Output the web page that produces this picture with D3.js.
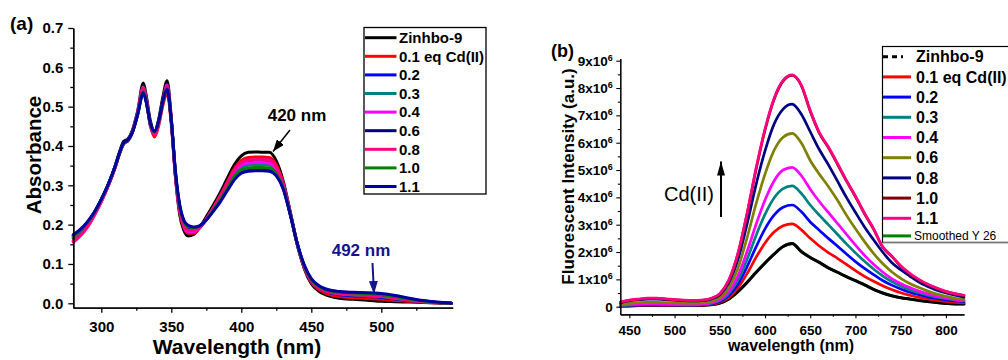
<!DOCTYPE html>
<html>
<head>
<meta charset="utf-8">
<script src="https://cdn.jsdelivr.net/npm/d3@7"></script>
<style>
  body { margin: 0; background: #fff; }
  svg { display: block; }
  text { font-family: "Liberation Sans", Arial, sans-serif; }
  .tick text { font-weight: bold; fill: #000; }
</style>
</head>
<body>
<svg id="chart" width="1008" height="360"></svg>
<script>
// ---------- Panel (a): UV-vis absorbance titration ----------
const wavelengthA = [280,285,290,295,300,305,310,313,316,319,322,326,330,332,335,338,341,344,347,350,353,356,359,362,366,370,375,380,385,390,395,400,405,410,415,420,425,430,435,440,445,450,455,460,470,480,490,500,510,520,530,540,550];

const absZinhbo9 = [0.165,0.180,0.200,0.228,0.262,0.302,0.350,0.385,0.412,0.418,0.438,0.490,0.560,0.530,0.465,0.437,0.468,0.525,0.566,0.470,0.320,0.225,0.185,0.171,0.175,0.192,0.220,0.250,0.282,0.318,0.352,0.375,0.384,0.385,0.384,0.384,0.362,0.310,0.232,0.150,0.088,0.050,0.032,0.022,0.013,0.010,0.008,0.005,0.004,0.003,0.002,0.001,0.000];
const absEq01 = [0.160,0.175,0.196,0.225,0.259,0.299,0.346,0.380,0.405,0.413,0.432,0.482,0.545,0.518,0.452,0.423,0.452,0.503,0.535,0.455,0.320,0.232,0.192,0.178,0.178,0.190,0.214,0.243,0.274,0.308,0.342,0.363,0.371,0.372,0.372,0.371,0.352,0.305,0.230,0.150,0.090,0.054,0.036,0.026,0.017,0.014,0.012,0.010,0.007,0.005,0.003,0.001,0.000];
const absEq02 = [0.170,0.184,0.203,0.230,0.263,0.302,0.349,0.382,0.408,0.415,0.434,0.482,0.540,0.516,0.457,0.433,0.462,0.515,0.548,0.462,0.325,0.240,0.200,0.186,0.184,0.192,0.213,0.240,0.269,0.301,0.333,0.352,0.359,0.360,0.360,0.359,0.342,0.300,0.228,0.150,0.092,0.057,0.040,0.030,0.022,0.019,0.017,0.015,0.011,0.007,0.004,0.002,0.000];
const absEq03 = [0.168,0.183,0.202,0.229,0.262,0.301,0.348,0.381,0.407,0.414,0.433,0.482,0.542,0.517,0.456,0.432,0.460,0.513,0.545,0.462,0.327,0.243,0.203,0.189,0.187,0.194,0.213,0.238,0.266,0.297,0.327,0.345,0.351,0.352,0.352,0.351,0.336,0.296,0.227,0.150,0.093,0.058,0.041,0.032,0.024,0.021,0.019,0.017,0.012,0.008,0.004,0.002,0.000];
const absEq04 = [0.155,0.171,0.193,0.223,0.258,0.299,0.347,0.381,0.406,0.414,0.434,0.486,0.550,0.522,0.455,0.430,0.460,0.515,0.555,0.465,0.323,0.237,0.196,0.182,0.182,0.192,0.214,0.242,0.272,0.304,0.336,0.352,0.357,0.358,0.358,0.357,0.340,0.299,0.228,0.150,0.093,0.058,0.041,0.032,0.025,0.023,0.021,0.019,0.014,0.009,0.005,0.002,0.000];
const absEq06 = [0.172,0.186,0.205,0.231,0.264,0.302,0.349,0.382,0.408,0.415,0.434,0.483,0.545,0.520,0.459,0.436,0.464,0.517,0.550,0.466,0.330,0.246,0.206,0.193,0.190,0.195,0.212,0.236,0.262,0.291,0.320,0.336,0.341,0.342,0.342,0.341,0.328,0.292,0.226,0.151,0.095,0.060,0.043,0.034,0.027,0.025,0.023,0.021,0.016,0.010,0.005,0.002,0.000];
const absEq08 = [0.157,0.173,0.194,0.224,0.259,0.300,0.347,0.381,0.406,0.414,0.434,0.485,0.548,0.520,0.453,0.428,0.458,0.513,0.552,0.463,0.325,0.240,0.199,0.186,0.185,0.193,0.214,0.242,0.273,0.306,0.340,0.358,0.365,0.366,0.366,0.365,0.347,0.302,0.229,0.150,0.092,0.057,0.040,0.031,0.024,0.022,0.020,0.018,0.013,0.008,0.004,0.002,0.000];
const absEq10 = [0.172,0.186,0.205,0.231,0.264,0.302,0.349,0.381,0.407,0.414,0.433,0.480,0.538,0.514,0.457,0.435,0.462,0.514,0.545,0.463,0.331,0.248,0.208,0.195,0.192,0.196,0.213,0.237,0.263,0.292,0.322,0.339,0.344,0.345,0.345,0.344,0.330,0.293,0.226,0.151,0.095,0.061,0.044,0.035,0.028,0.026,0.024,0.022,0.017,0.011,0.006,0.002,0.000];
const absEq11 = [0.175,0.188,0.207,0.232,0.265,0.303,0.350,0.382,0.408,0.415,0.433,0.480,0.535,0.512,0.458,0.437,0.463,0.514,0.545,0.465,0.334,0.251,0.211,0.198,0.194,0.197,0.212,0.234,0.258,0.286,0.314,0.331,0.336,0.337,0.337,0.336,0.324,0.290,0.225,0.152,0.097,0.063,0.046,0.037,0.030,0.028,0.027,0.025,0.020,0.013,0.007,0.003,0.000];

const labelsA = ["Zinhbo-9","0.1 eq Cd(II)","0.2","0.3","0.4","0.6","0.8","1.0","1.1"];
const coloursA = ["#000000","#ff0000","#0000ff","#008080","#ff00ff","#000080","#ff0080","#008000","#0000a0"];
const seriesA = [absZinhbo9,absEq01,absEq02,absEq03,absEq04,absEq06,absEq08,absEq10,absEq11];

const absTicks = [0.0,0.1,0.2,0.3,0.4,0.5,0.6,0.7];
const absMinorTicks = [0.05,0.15,0.25,0.35,0.45,0.55,0.65];
const wlTicksA = [300,350,400,450,500];
const wlMinorTicksA = [325,375,425,475,525];

// ---------- Panel (b): fluorescence titration (intensity in units of 10^6) ----------
const wavelengthB = [440,450,460,470,480,490,500,510,520,530,540,550,560,570,580,590,600,610,620,630,640,650,660,670,680,690,700,710,720,730,740,750,760,770,780,790,800,810,820];

const flZinhbo9 = [0.02,0.03,0.04,0.05,0.05,0.04,0.04,0.04,0.04,0.05,0.07,0.13,0.28,0.55,0.88,1.25,1.60,1.92,2.20,2.31,2.02,1.80,1.62,1.42,1.26,1.10,0.95,0.80,0.63,0.50,0.40,0.33,0.28,0.23,0.19,0.15,0.12,0.10,0.10];
const flEq01 = [0.02,0.04,0.05,0.06,0.06,0.05,0.05,0.05,0.05,0.06,0.08,0.16,0.34,0.68,1.20,1.80,2.33,2.73,2.96,3.03,2.82,2.50,2.22,1.98,1.77,1.55,1.32,1.11,0.93,0.77,0.63,0.51,0.42,0.34,0.28,0.23,0.19,0.16,0.14];
const flEq02 = [0.03,0.05,0.06,0.07,0.07,0.07,0.06,0.06,0.06,0.07,0.10,0.19,0.41,0.82,1.45,2.18,2.85,3.35,3.64,3.72,3.48,3.10,2.80,2.50,2.22,1.93,1.65,1.40,1.17,0.96,0.79,0.65,0.53,0.44,0.36,0.30,0.25,0.21,0.18];
const flEq03 = [0.04,0.06,0.08,0.09,0.09,0.08,0.08,0.07,0.07,0.08,0.12,0.22,0.48,0.97,1.72,2.60,3.38,3.98,4.32,4.42,4.15,3.72,3.35,3.00,2.65,2.30,1.97,1.66,1.38,1.13,0.92,0.76,0.62,0.51,0.42,0.35,0.29,0.24,0.21];
const flEq04 = [0.05,0.08,0.10,0.11,0.11,0.10,0.09,0.09,0.09,0.10,0.14,0.26,0.56,1.12,2.00,3.00,3.90,4.60,5.00,5.10,4.80,4.30,3.85,3.45,3.05,2.65,2.25,1.88,1.55,1.27,1.03,0.85,0.70,0.57,0.47,0.39,0.32,0.27,0.23];
const flEq06 = [0.08,0.12,0.15,0.16,0.16,0.15,0.14,0.13,0.13,0.14,0.19,0.33,0.70,1.40,2.50,3.75,4.85,5.72,6.20,6.34,6.00,5.35,4.85,4.40,3.90,3.35,2.85,2.38,1.95,1.58,1.28,1.04,0.85,0.70,0.57,0.46,0.38,0.31,0.27];
const flEq08 = [0.15,0.22,0.26,0.28,0.28,0.26,0.24,0.22,0.21,0.22,0.27,0.43,0.88,1.72,3.00,4.45,5.70,6.68,7.23,7.41,7.05,6.40,5.75,5.20,4.60,4.00,3.45,2.92,2.45,2.00,1.62,1.35,1.12,0.90,0.74,0.60,0.50,0.42,0.35];
const flEq10 = [0.16,0.23,0.27,0.30,0.30,0.28,0.25,0.23,0.22,0.23,0.29,0.47,0.96,1.92,3.36,5.00,6.46,7.58,8.25,8.46,8.10,7.15,6.35,5.82,5.22,4.60,4.02,3.40,2.84,2.18,1.84,1.48,1.20,0.98,0.81,0.67,0.55,0.47,0.41];
const flEq11 = [0.17,0.24,0.28,0.31,0.31,0.29,0.26,0.24,0.23,0.24,0.30,0.48,0.98,1.95,3.40,5.05,6.50,7.62,8.28,8.48,8.12,7.18,6.38,5.85,5.25,4.62,4.05,3.42,2.86,2.20,1.86,1.50,1.22,1.00,0.82,0.68,0.56,0.48,0.42];
const flSmoothed = [0.02,0.03,0.04,0.05,0.05,0.04,0.04,0.04,0.04,0.05,0.07,0.13,0.28,0.55,0.88,1.25,1.60,1.92,2.20,2.31,2.02,1.80,1.62,1.42,1.26,1.10,0.95,0.80,0.63,0.50,0.40,0.33,0.28,0.23,0.19,0.15,0.12,0.10,0.10];

const labelsB = ["Zinhbo-9","0.1 eq Cd(II)","0.2","0.3","0.4","0.6","0.8","1.0","1.1","Smoothed Y 26"];
const coloursB = ["#000000","#ff0000","#0000ff","#008080","#ff00ff","#808000","#000080","#800000","#ff0080","#008000"];
const seriesB = [flZinhbo9,flEq01,flEq02,flEq03,flEq04,flEq06,flEq08,flEq10,flEq11,flSmoothed];

const intensityTicks = [0,1,2,3,4,5,6,7,8,9];
const intensityMinorTicks = [0.5,1.5,2.5,3.5,4.5,5.5,6.5,7.5,8.5];
const wlTicksB = [450,500,550,600,650,700,750,800];
const wlMinorTicksB = [475,525,575,625,675,725,775];

// ---------- drawing ----------
const svg = d3.select("#chart");
svg.append("rect").attr("width",1008).attr("height",360).attr("fill","#fff");

const defs = svg.append("defs");
function arrowMarker(id, colour, w, h) {
  defs.append("marker").attr("id", id)
    .attr("viewBox", `0 0 ${h} ${w}`).attr("refX", h).attr("refY", w/2)
    .attr("markerUnits", "userSpaceOnUse")
    .attr("markerWidth", h).attr("markerHeight", w).attr("orient", "auto")
    .append("path").attr("d", `M0,0 L${h},${w/2} L0,${w} Z`).attr("fill", colour);
}
arrowMarker("headBlack", "#000", 9, 12);
arrowMarker("headNavy", "#14148c", 9, 13);
arrowMarker("headUp", "#000", 8, 14);

function styleAxis(g, width) {
  g.selectAll("path.domain").attr("stroke", "#000").attr("stroke-width", width);
  g.selectAll(".tick line").attr("stroke", "#000").attr("stroke-width", width);
}

// Panel (a)
const xA = d3.scaleLinear().domain([280, 551]).range([73.3, 452.7]);
const yA = d3.scaleLinear().domain([-0.0112, 0.7]).range([307.7, 28]);

const gA = svg.append("g");
const lineA = d3.line().x((d, i) => xA(wavelengthA[i])).y(d => yA(d)).curve(d3.curveMonotoneX);
seriesA.forEach((s, k) => {
  gA.append("path").attr("d", lineA(s)).attr("fill", "none")
    .attr("stroke", coloursA[k]).attr("stroke-width", 3)
    .attr("stroke-linejoin", "round").attr("stroke-linecap", "round");
});

const axAyMinor = gA.append("g").attr("transform", `translate(${xA.range()[0]},0)`)
  .call(d3.axisLeft(yA).tickValues(absMinorTicks).tickSize(3).tickSizeOuter(0).tickFormat(""));
styleAxis(axAyMinor, 1.3);
const axAy = gA.append("g").attr("transform", `translate(${xA.range()[0]},0)`)
  .call(d3.axisLeft(yA).tickValues(absTicks).tickSize(5).tickSizeOuter(0).tickPadding(5).tickFormat(d3.format(".1f")));
styleAxis(axAy, 1.3);
axAy.selectAll("text").attr("font-size", 15);

const axAxMinor = gA.append("g").attr("transform", `translate(0,${yA.range()[0]})`)
  .call(d3.axisBottom(xA).tickValues(wlMinorTicksA).tickSize(3).tickSizeOuter(0).tickFormat(""));
styleAxis(axAxMinor, 1.3);
const axAx = gA.append("g").attr("transform", `translate(0,${yA.range()[0]})`)
  .call(d3.axisBottom(xA).tickValues(wlTicksA).tickSize(5).tickSizeOuter(0).tickPadding(9).tickFormat(d3.format("d")));
styleAxis(axAx, 1.3);
axAx.selectAll("text").attr("font-size", 15);

gA.append("text").attr("transform", "translate(41,155) rotate(-90)")
  .attr("text-anchor", "middle").attr("font-size", 20.5).attr("font-weight", "bold").text("Absorbance");
gA.append("text").attr("x", 237).attr("y", 354).attr("text-anchor", "middle")
  .attr("font-size", 21).attr("font-weight", "bold").text("Wavelength (nm)");
gA.append("text").attr("x", 10).attr("y", 30).attr("font-size", 19).attr("font-weight", "bold").text("(a)");

// peak annotations
gA.append("text").attr("x", 297).attr("y", 121).attr("text-anchor", "middle")
  .attr("font-size", 17).attr("font-weight", "bold").text("420 nm");
gA.append("line").attr("x1", 290).attr("y1", 130).attr("x2", 273).attr("y2", 151.5)
  .attr("stroke", "#000").attr("stroke-width", 1.5).attr("marker-end", "url(#headBlack)");
gA.append("text").attr("x", 361).attr("y", 256).attr("text-anchor", "middle")
  .attr("font-size", 17).attr("font-weight", "bold").attr("fill", "#14148c").text("492 nm");
gA.append("line").attr("x1", 372.5).attr("y1", 263).attr("x2", 374).attr("y2", 294)
  .attr("stroke", "#14148c").attr("stroke-width", 2).attr("marker-end", "url(#headNavy)");

// legend (a)
const legA = gA.append("g");
legA.append("rect").attr("x", 364).attr("y", 27.5).attr("width", 122).attr("height", 166.5)
  .attr("fill", "#fff").attr("stroke", "#000").attr("stroke-width", 1.3);
labelsA.forEach((lab, k) => {
  const yy = 37.7 + k * 18.6;
  legA.append("line").attr("x1", 365).attr("x2", 396.5).attr("y1", yy).attr("y2", yy)
    .attr("stroke", coloursA[k]).attr("stroke-width", 3);
  legA.append("text").attr("x", 399).attr("y", yy + 5.3).attr("font-size", 15)
    .attr("font-weight", "bold").text(lab);
});

// Panel (b)
const xB = d3.scaleLinear().domain([440, 820]).range([620.3, 964]);
const yB = d3.scaleLinear().domain([-0.28, 9.08]).range([314.35, 58.5]);

const gB = svg.append("g");
const lineB = d3.line().x((d, i) => xB(wavelengthB[i])).y(d => yB(d)).curve(d3.curveMonotoneX);
// smoothed trace sits underneath the raw traces
const drawOrderB = [9, 0, 1, 2, 3, 4, 5, 6, 7, 8];
drawOrderB.forEach(k => {
  gB.append("path").attr("d", lineB(seriesB[k])).attr("fill", "none")
    .attr("stroke", coloursB[k]).attr("stroke-width", k === 0 ? 3 : 2.7)
    .attr("stroke-linejoin", "round").attr("stroke-linecap", "round");
});

const axByMinor = gB.append("g").attr("transform", `translate(${xB.range()[0]},0)`)
  .call(d3.axisLeft(yB).tickValues(intensityMinorTicks).tickSize(2.5).tickSizeOuter(0).tickFormat(""));
styleAxis(axByMinor, 1.1);
const axBy = gB.append("g").attr("transform", `translate(${xB.range()[0]},0)`)
  .call(d3.axisLeft(yB).tickValues(intensityTicks).tickSize(4).tickSizeOuter(0).tickPadding(3.5).tickFormat(""));
styleAxis(axBy, 1.1);
axBy.selectAll(".tick text").each(function(d) {
  const t = d3.select(this).attr("font-size", 13.5);
  if (d === 0) { t.text("0"); return; }
  t.text(`${d}x10`);
  t.append("tspan").attr("dy", "-0.55em").attr("font-size", 9).text("6");
});

const axBxMinor = gB.append("g").attr("transform", `translate(0,${yB.range()[0]})`)
  .call(d3.axisBottom(xB).tickValues(wlMinorTicksB).tickSize(2.5).tickSizeOuter(0).tickFormat(""));
styleAxis(axBxMinor, 1.1);
const axBx = gB.append("g").attr("transform", `translate(0,${yB.range()[0]})`)
  .call(d3.axisBottom(xB).tickValues(wlTicksB).tickSize(4).tickSizeOuter(0).tickPadding(7).tickFormat(d3.format("d")));
styleAxis(axBx, 1.1);
axBx.selectAll("text").attr("font-size", 13.5);

gB.append("text").attr("transform", "translate(574,176.5) rotate(-90)")
  .attr("text-anchor", "middle").attr("font-size", 17).attr("font-weight", "bold")
  .text("Fluorescent Intensity (a.u.)");
gB.append("text").attr("x", 791).attr("y", 351).attr("text-anchor", "middle")
  .attr("font-size", 16).attr("font-weight", "bold").text("wavelength (nm)");
gB.append("text").attr("x", 551).attr("y", 57).attr("font-size", 18).attr("font-weight", "bold").text("(b)");

gB.append("text").attr("x", 664).attr("y", 201).attr("font-size", 20).text("Cd(II)");
gB.append("line").attr("x1", 721).attr("y1", 217).attr("x2", 721).attr("y2", 161.5)
  .attr("stroke", "#000").attr("stroke-width", 2).attr("marker-end", "url(#headUp)");

// legend (b)
const legB = gB.append("g");
legB.append("rect").attr("x", 882.5).attr("y", 46.5).attr("width", 140).attr("height", 196)
  .attr("fill", "#fff").attr("stroke", "#000").attr("stroke-width", 1.2);
legB.append("line").attr("x1", 882.5).attr("x2", 1008).attr("y1", 242.5).attr("y2", 242.5)
  .attr("stroke", "#777").attr("stroke-width", 1.4);
labelsB.forEach((lab, k) => {
  const yy = 56.7 + k * 20.2 - (k === 9 ? 2.6 : 0);
  const seg = legB.append("line").attr("x1", 883).attr("x2", 911).attr("y1", yy).attr("y2", yy)
    .attr("stroke", coloursB[k]).attr("stroke-width", 3);
  if (k === 0) seg.attr("stroke-dasharray", "5,4,5,4,2,30").attr("x2", 913);
  const isSmall = k === 9;
  legB.append("text").attr("x", isSmall ? 914 : 916).attr("y", yy + (isSmall ? 4.3 : 5.7))
    .attr("font-size", isSmall ? 12 : 16).attr("font-weight", isSmall ? "normal" : "bold").text(lab);
});
</script>
</body>
</html>
